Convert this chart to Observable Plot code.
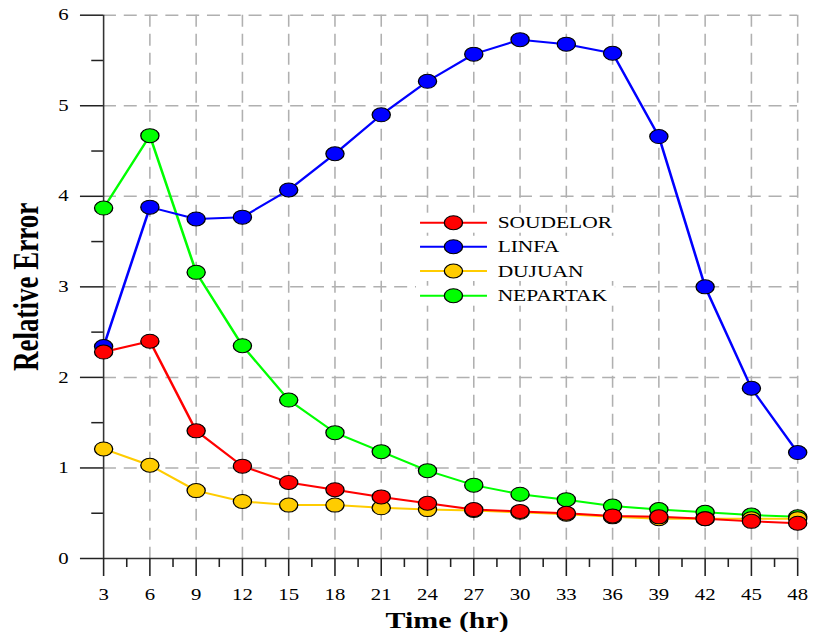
<!DOCTYPE html>
<html>
<head>
<meta charset="utf-8">
<script src="https://cdn.jsdelivr.net/npm/d3@7"></script>
<script src="https://cdn.jsdelivr.net/npm/@observablehq/plot@0.6"></script>
<style>
  html, body { margin: 0; padding: 0; background: #fff; }
  #wrap { width: 823px; height: 632px; overflow: hidden; }
  #wrap svg { display: block; transform: scaleX(1.3); transform-origin: 0 0; max-width: none; }
</style>
</head>
<body>
<div id="wrap"></div>
<script>
// Forecast lead time (hr)
const hours = [3, 6, 9, 12, 15, 18, 21, 24, 27, 30, 33, 36, 39, 42, 45, 48];

// Relative error per typhoon
const soudelor = [2.28, 2.40, 1.41, 1.02, 0.84, 0.76, 0.68, 0.61, 0.54, 0.52, 0.50, 0.47, 0.46, 0.44, 0.41, 0.39];
const linfa    = [2.34, 3.88, 3.75, 3.77, 4.07, 4.47, 4.90, 5.27, 5.57, 5.73, 5.68, 5.58, 4.66, 3.00, 1.88, 1.17];
const dujuan   = [1.21, 1.03, 0.75, 0.63, 0.59, 0.59, 0.56, 0.54, 0.53, 0.51, 0.49, 0.46, 0.44, 0.44, 0.44, 0.44];
const nepartak = [3.87, 4.67, 3.16, 2.35, 1.75, 1.39, 1.18, 0.97, 0.81, 0.71, 0.65, 0.58, 0.54, 0.51, 0.48, 0.46];

// Series names and colours (legend order)
const names  = ["SOUDELOR", "LINFA", "DUJUAN", "NEPARTAK"];
const colors = ["#ff0000", "#0000ff", "#ffcc00", "#00ff00"];
const values = [soudelor, linfa, dujuan, nepartak];

// Axis ticks
const xTicks = [3, 6, 9, 12, 15, 18, 21, 24, 27, 30, 33, 36, 39, 42, 45, 48];
const xMinor = [4.5, 7.5, 10.5, 13.5, 16.5, 19.5, 22.5, 25.5, 28.5, 31.5, 34.5, 37.5, 40.5, 43.5, 46.5];
const yTicks = [0, 1, 2, 3, 4, 5, 6];
const yMinor = [0.5, 1.5, 2.5, 3.5, 4.5, 5.5];

// Long-format table built from the arrays above
const rows = names.flatMap((name, i) =>
  hours.map((h, j) => ({series: name, hour: h, value: values[i][j], color: colors[i]}))
);

// Drawing order: bottom to top
const drawOrder = ["NEPARTAK", "DUJUAN", "LINFA", "SOUDELOR"];

const font = "'Liberation Serif', 'Times New Roman', serif";

const seriesMarks = drawOrder.flatMap(name => {
  const d = rows.filter(r => r.series === name);
  const c = d[0].color;
  return [
    Plot.line(d, {x: "hour", y: "value", stroke: c, strokeWidth: 2}),
    Plot.dot(d, {x: "hour", y: "value", r: 7, fill: c, stroke: "#000", strokeWidth: 1})
  ];
});

const chart = Plot.plot({
  width: 633,
  height: 632,
  marginLeft: 79.2,
  marginRight: 19.9,
  marginTop: 14.7,
  marginBottom: 74,
  style: {fontFamily: font, background: "#fff", color: "#000", overflow: "visible"},
  x: {domain: [3, 48]},
  y: {domain: [0, 6]},
  marks: [
    // dashed grid
    Plot.ruleY(yTicks.filter(v => v > 0), {stroke: "#b0b0b0", strokeWidth: 1.5, strokeDasharray: "10,6"}),
    Plot.ruleX(xTicks.filter(v => v > 3), {stroke: "#b0b0b0", strokeWidth: 1.2, strokeDasharray: "12,7"}),
    // axis lines
    Plot.ruleX([3], {stroke: "#333", strokeWidth: 1.2}),
    Plot.ruleY([0], {stroke: "#333", strokeWidth: 1.5}),
    // ticks and tick labels
    Plot.axisY({ticks: yTicks, tickFormat: d3.format("d"), tickSize: 17.7, tickPadding: 9.2, fontSize: 16, stroke: "#222", strokeWidth: 1.5, label: null}),
    Plot.axisY({ticks: yMinor, tickSize: 9, text: null, stroke: "#222", strokeWidth: 1.5, label: null}),
    Plot.axisX({ticks: xTicks, tickFormat: d3.format("d"), tickSize: 18, tickPadding: 12, fontSize: 16, stroke: "#222", strokeWidth: 1.2, label: null}),
    Plot.axisX({ticks: xMinor, tickSize: 9, text: null, stroke: "#222", strokeWidth: 1.2, label: null}),
    // series
    ...seriesMarks,
    // axis titles
    Plot.text(["Relative Error"], {frameAnchor: "left", textAnchor: "middle", lineAnchor: "middle", dx: -59.2, rotate: -90, fontSize: 27, fontWeight: "bold"}),
    Plot.text(["Time (hr)"], {frameAnchor: "bottom", textAnchor: "middle", lineAnchor: "middle", dx: -2.7, dy: 62, fontSize: 23, fontWeight: "bold"})
  ]
});

document.getElementById("wrap").appendChild(chart);

// Legend inside the plot area
const svg = d3.select(chart);
const legend = svg.append("g").attr("font-family", font).attr("text-anchor", "start");
const rowY = [222.7, 246.7, 271, 295.7];
names.forEach((name, i) => {
  const g = legend.append("g").attr("transform", `translate(0,${rowY[i]})`);
  g.append("rect").attr("x", 320).attr("y", -10).attr("width", 153).attr("height", 20).attr("fill", "#fff");
  g.append("line").attr("x1", 323.1).attr("x2", 374.6).attr("y1", 0).attr("y2", 0)
    .attr("stroke", colors[i]).attr("stroke-width", 2);
  g.append("circle").attr("cx", 348.8).attr("cy", 0).attr("r", 7)
    .attr("fill", colors[i]).attr("stroke", "#000").attr("stroke-width", 1);
  g.append("text").attr("x", 382.8).attr("y", 0).attr("dy", "0.34em")
    .attr("text-anchor", "start").attr("font-size", 16.5).attr("fill", "#000").text(name);
});
</script>
</body>
</html>
